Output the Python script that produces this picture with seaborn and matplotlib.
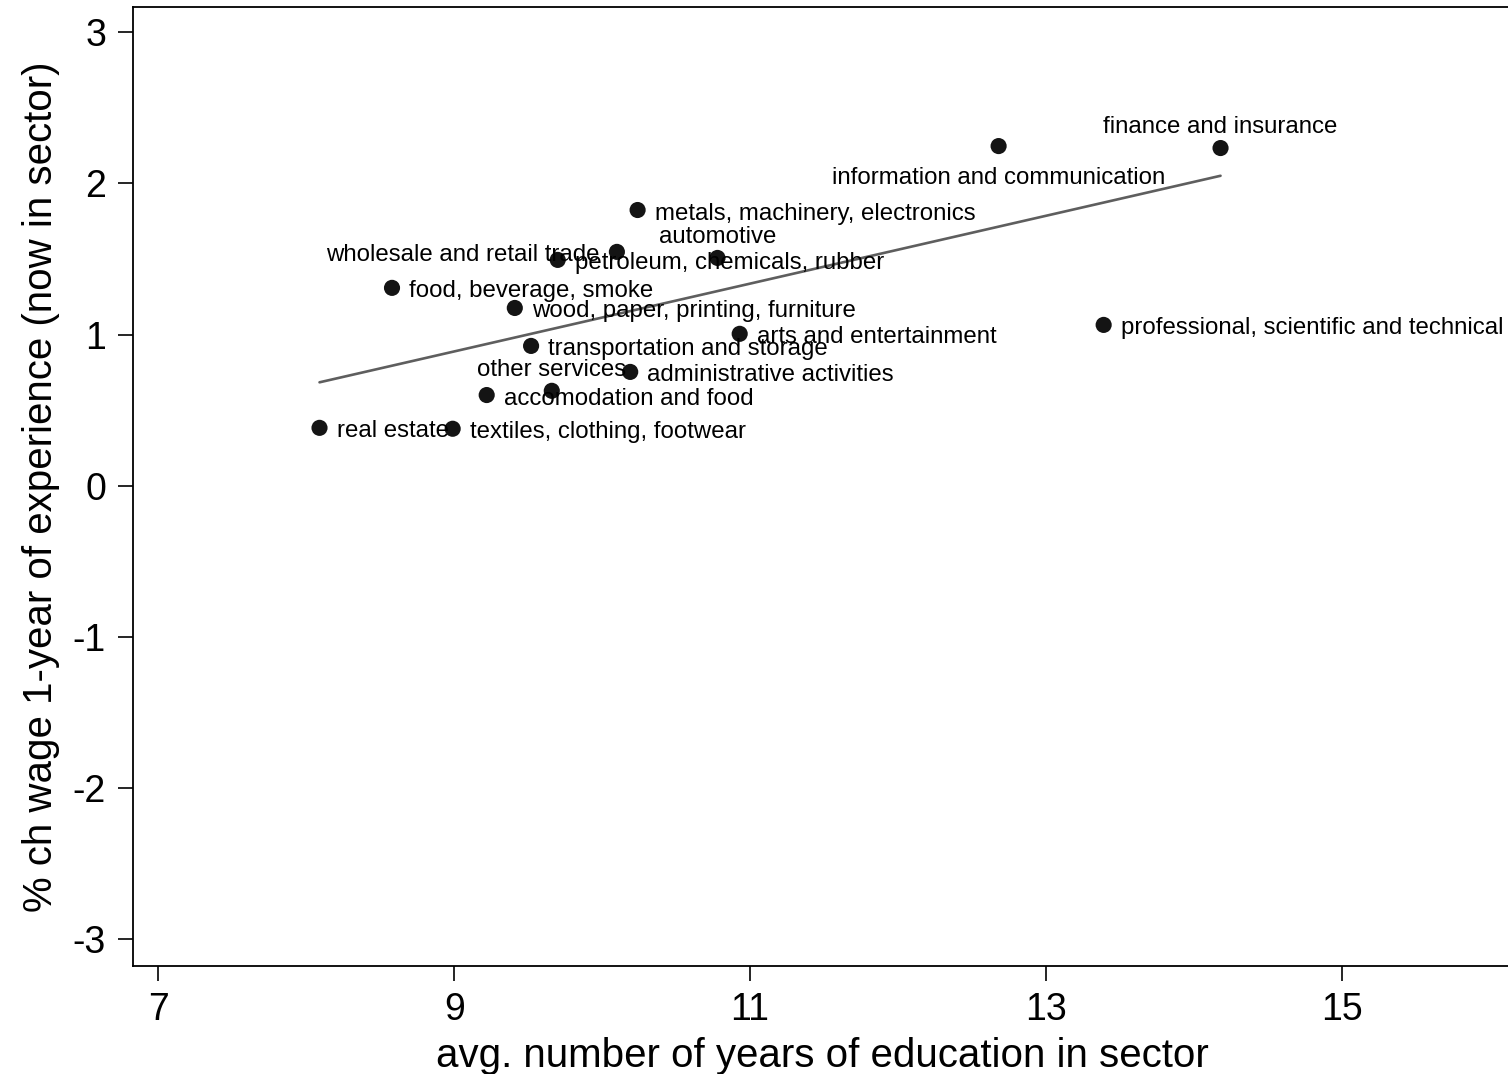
"""
plot.py

Wage returns to experience vs. average schooling by sector.
"""

import pandas as pd
import matplotlib.pyplot as plt
import seaborn as sns

sectors = [
    "real estate", "textiles, clothing, footwear", "accomodation and food",
    "other services", "transportation and storage", "administrative activities",
    "arts and entertainment", "wood, paper, printing, furniture",
    "food, beverage, smoke", "petroleum, chemicals, rubber",
    "wholesale and retail trade", "automotive",
    "metals, machinery, electronics", "information and communication",
    "finance and insurance", "professional, scientific and technical",
]
years_educ = [8.09, 8.99, 9.22, 9.66, 9.52, 10.19, 10.93, 9.41,
              8.58, 9.70, 10.10, 10.78, 10.24, 12.68, 14.18, 13.39]
wage_growth = [0.383, 0.377, 0.600, 0.628, 0.925, 0.753, 1.005, 1.176,
               1.309, 1.494, 1.547, 1.507, 1.824, 2.247, 2.234, 1.064]

x_ticks = [7, 9, 11, 13, 15]
y_ticks = [3, 2, 1, 0, -1, -2, -3]

# label placement: (dx, dy) offset in pixels, horizontal alignment
LABEL_POS = {
    "wholesale and retail trade": (-17, 0, "right"),
    "automotive": (0, 24, "center"),
    "information and communication": (0, -28, "center"),
    "finance and insurance": (0, 25, "center"),
    "other services": (0, 24, "center"),
}


# ====================
def main():

    df = pd.DataFrame({"sector": sectors, "educ": years_educ,
                       "wage": wage_growth})

    sns.set_style("ticks")
    plt.rcParams["font.family"] = ["Liberation Sans", "DejaVu Sans"]
    plt.rcParams["axes.unicode_minus"] = False
    plt.rcParams["text.color"] = "black"
    plt.rcParams["axes.labelcolor"] = "black"
    plt.rcParams["xtick.labelcolor"] = "black"
    plt.rcParams["ytick.labelcolor"] = "black"

    fig = plt.figure(figsize=(15.08, 10.74), dpi=100)
    ax = fig.add_axes([132.5 / 1508, (1074 - 966) / 1074,
                       (1512 - 132.5) / 1508, (966 - 7) / 1074])

    sns.regplot(x="educ", y="wage", data=df, scatter=False, ci=None,
                color="#5e5e5e", line_kws={"linewidth": 1.9}, ax=ax)
    sns.scatterplot(x="educ", y="wage", data=df, color="#141414", s=135,
                    edgecolor="none", ax=ax, zorder=3)

    # Point labels, offsets converted from pixels to points
    # (small downward nudge so the text sits like Stata's mlabel)
    for _, row in df.iterrows():
        dx, dy, ha = LABEL_POS.get(row["sector"], (17, 0, "left"))
        ax.annotate(row["sector"], (row["educ"], row["wage"]),
                    xytext=(dx * 0.72, (dy - 3.5) * 0.72),
                    textcoords="offset points",
                    ha=ha, va="center", fontsize=17.3, color="black",
                    zorder=4)

    ax.set_xlim(6.826, 16.15)
    ax.set_ylim(-3.177, 3.167)
    ax.set_xticks(x_ticks)
    ax.set_yticks(y_ticks)
    ax.tick_params(axis="both", length=11, width=1.2, labelsize=27,
                   color="black", pad=8)
    for side in ["left", "bottom", "top", "right"]:
        ax.spines[side].set_linewidth(1.3)
        ax.spines[side].set_color("black")

    ax.set_xlabel("avg. number of years of education in sector",
                  fontsize=29, labelpad=6)
    ax.set_ylabel("% ch wage 1-year of experience (now in sector)",
                  fontsize=29, labelpad=9)

    fig.savefig("out.png", dpi=100)


# ====================
if __name__ == "__main__":

    main()
